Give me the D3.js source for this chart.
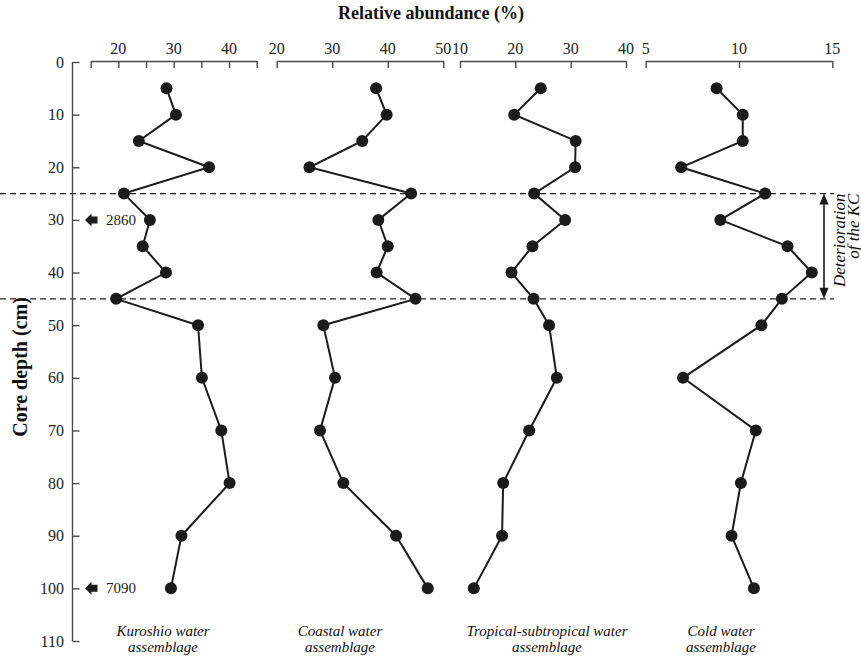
<!DOCTYPE html>
<html>
<head>
<meta charset="utf-8">
<script src="https://cdn.jsdelivr.net/npm/d3@7/dist/d3.min.js"></script>
<style>
  html, body { margin: 0; padding: 0; background: #fff; }
  svg { display: block; font-family: "Liberation Serif", "Times New Roman", serif; }
</style>
</head>
<body>
<svg id="chart" width="861" height="661"></svg>
<script>
// Core depth of each sample (cm)
const depths = [5, 10, 15, 20, 25, 30, 35, 40, 45, 50, 60, 70, 80, 90, 100];

// Relative abundance (%) of each assemblage at those depths
const kuroshio = [28.7, 30.4, 23.7, 36.4, 21.0, 25.7, 24.4, 28.6, 19.6, 34.4, 35.1, 38.6, 40.1, 31.4, 29.5];
const coastal  = [37.9, 39.8, 35.4, 25.9, 44.2, 38.3, 40.0, 38.0, 45.0, 28.4, 30.5, 27.8, 32.0, 41.5, 47.2];
const tropical = [24.6, 19.8, 30.9, 30.8, 23.4, 29.0, 23.1, 19.3, 23.3, 26.1, 27.5, 22.5, 17.8, 17.6, 12.5];
const cold     = [8.8, 10.2, 10.2, 6.9, 11.4, 9.0, 12.6, 13.9, 12.3, 11.2, 7.0, 10.9, 10.1, 9.6, 10.8];

// Panel names (two lines each)
const panelNames = [
  ["Kuroshio water", "assemblage"],
  ["Coastal water", "assemblage"],
  ["Tropical-subtropical water", "assemblage"],
  ["Cold water", "assemblage"]
];

// Axis domains, tick marks and labelled ticks for every panel
const panelDomains = [[15, 45], [20, 50], [10, 40], [5, 15]];
const panelTicks = [
  [15, 20, 25, 30, 35, 40, 45],
  [20, 30, 40, 50],
  [10, 20, 30, 40],
  [5, 10, 15]
];
const panelTickLabels = [
  [20, 30, 40],
  [20, 30, 40, 50],
  [10, 20, 30, 40],
  [5, 10, 15]
];

// Depth axis
const depthDomain = [0, 110];
const depthTicks = [0, 10, 20, 30, 40, 50, 60, 70, 80, 90, 100, 110];

// Calibrated ages (cal yr BP) marked on the depth axis
const ageDepths = [30, 100];
const ageLabels = ["2860", "7090"];

// Interval of the Kuroshio Current deterioration
const kcInterval = [25, 45];

const series = [kuroshio, coastal, tropical, cold];

// ---------- layout ----------
const svg = d3.select("#chart");
const axisColor = "#4a4a4a";
const inkColor = "#1b1b1b";

const y = d3.scaleLinear().domain(depthDomain).range([62, 641]);
const axisX = 72.5;

const panelRanges = [[90.7, 256.7], [276.7, 443.3], [460, 626], [645.7, 832.3]];
const nameCenters = [163, 340, 547, 721];
const topAxisY = 61;

// ---------- titles ----------
svg.append("text")
  .attr("x", 431).attr("y", 19)
  .attr("text-anchor", "middle")
  .attr("font-size", 18).attr("font-weight", "bold")
  .attr("fill", "#111")
  .text("Relative abundance (%)");

svg.append("text")
  .attr("transform", `translate(27,367) rotate(-90)`)
  .attr("text-anchor", "middle")
  .attr("font-size", 20).attr("font-weight", "bold")
  .attr("fill", "#111")
  .text("Core depth (cm)");

// ---------- boundaries (dashed) ----------
svg.append("g").selectAll("line")
  .data(kcInterval)
  .join("line")
  .attr("x1", 0).attr("x2", 834)
  .attr("y1", d => y(d)).attr("y2", d => y(d))
  .attr("stroke", "#222").attr("stroke-width", 1.3)
  .attr("stroke-dasharray", "6,4");

// ---------- depth axis ----------
const yAxis = d3.axisRight(y).tickValues(depthTicks).tickSize(7).tickFormat("");
const gy = svg.append("g").attr("transform", `translate(${axisX},0)`).call(yAxis);
gy.select(".domain").attr("stroke", axisColor).attr("stroke-width", 1.4)
  .attr("d", `M0,${y(0)}V${y(110)}`);
gy.selectAll(".tick line").attr("stroke", axisColor).attr("stroke-width", 1.4);

svg.append("g").selectAll("text")
  .data(depthTicks)
  .join("text")
  .attr("x", 64).attr("y", d => y(d) + 5.5)
  .attr("text-anchor", "end")
  .attr("font-size", 16).attr("fill", "#222")
  .text(d => d);

// ---------- age markers ----------
const ageG = svg.append("g").selectAll("g")
  .data(ageDepths)
  .join("g")
  .attr("transform", d => `translate(0,${y(d)})`);
ageG.append("path")
  .attr("d", "M85,0 L91.5,-6.5 L91.5,-3.5 L97.5,-3.5 L97.5,3.5 L91.5,3.5 L91.5,6.5 Z")
  .attr("fill", inkColor);
ageG.append("text")
  .attr("x", 106).attr("y", 5)
  .attr("font-size", 15).attr("fill", "#222")
  .text((d, i) => ageLabels[i]);

// ---------- panels ----------
const line = d3.line();

series.forEach((vals, p) => {
  const x = d3.scaleLinear().domain(panelDomains[p]).range(panelRanges[p]);
  const g = svg.append("g");

  // top axis bracket
  const xAxis = d3.axisBottom(x).tickValues(panelTicks[p]).tickSize(7).tickFormat("").tickSizeOuter(0);
  const gx = g.append("g").attr("transform", `translate(0,${topAxisY})`).call(xAxis);
  gx.select(".domain").attr("stroke", axisColor).attr("stroke-width", 1.4);
  gx.selectAll(".tick line").attr("stroke", axisColor).attr("stroke-width", 1.4);

  g.append("g").selectAll("text")
    .data(panelTickLabels[p])
    .join("text")
    .attr("x", d => x(d)).attr("y", 54)
    .attr("text-anchor", "middle")
    .attr("font-size", 16).attr("fill", "#222")
    .text(d => d);

  // profile line
  const pts = depths.map((d, i) => [x(vals[i]), y(d)]);
  g.append("path")
    .attr("d", line(pts))
    .attr("fill", "none")
    .attr("stroke", inkColor).attr("stroke-width", 2);

  // sample points
  g.append("g").selectAll("circle")
    .data(depths)
    .join("circle")
    .attr("cx", (d, i) => x(vals[i]))
    .attr("cy", d => y(d))
    .attr("r", 6)
    .attr("fill", inkColor);

  // panel name
  const name = g.append("text")
    .attr("text-anchor", "middle")
    .attr("font-size", 15).attr("font-style", "italic").attr("fill", "#111");
  name.append("tspan").attr("x", nameCenters[p]).attr("y", 636).text(panelNames[p][0]);
  name.append("tspan").attr("x", nameCenters[p]).attr("y", 652).text(panelNames[p][1]);
});

// ---------- deterioration interval arrow ----------
const arrowX = 824;
const ay0 = y(kcInterval[0]), ay1 = y(kcInterval[1]);
svg.append("line")
  .attr("x1", arrowX).attr("x2", arrowX)
  .attr("y1", ay0 + 8).attr("y2", ay1 - 8)
  .attr("stroke", inkColor).attr("stroke-width", 1.6);
svg.append("path")
  .attr("d", `M${arrowX},${ay0} L${arrowX - 4.5},${ay0 + 11} L${arrowX + 4.5},${ay0 + 11} Z`)
  .attr("fill", inkColor);
svg.append("path")
  .attr("d", `M${arrowX},${ay1} L${arrowX - 4.5},${ay1 - 11} L${arrowX + 4.5},${ay1 - 11} Z`)
  .attr("fill", inkColor);

const kcText = svg.append("text")
  .attr("transform", `translate(845,${ay0}) rotate(-90)`)
  .attr("text-anchor", "end")
  .attr("font-size", 17).attr("font-style", "italic").attr("fill", "#111");
kcText.append("tspan").attr("x", 0).attr("y", 0).text("Deterioration");
kcText.append("tspan").attr("x", 0).attr("y", 13.5).text("of the KC");
</script>
</body>
</html>
